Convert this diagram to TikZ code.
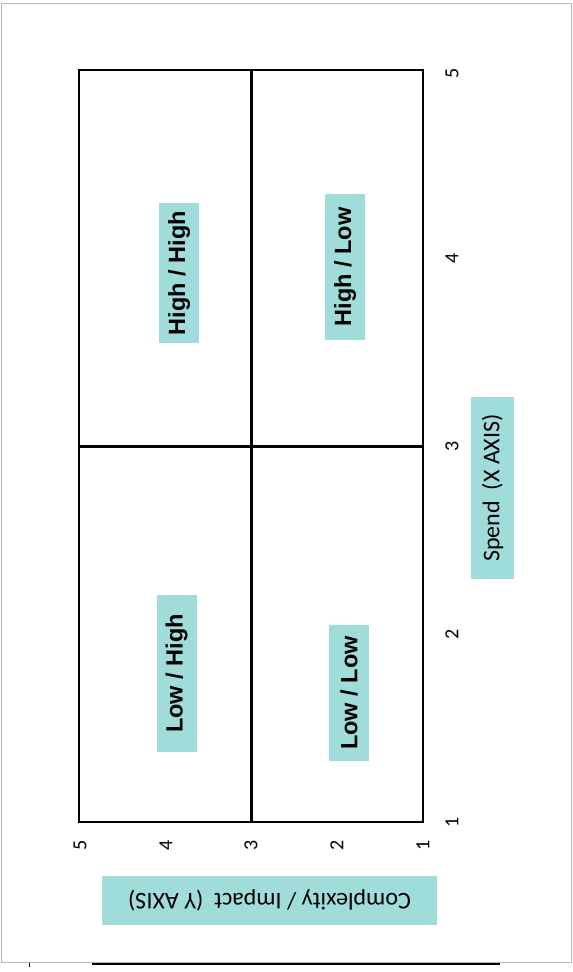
\documentclass[tikz,border=0pt]{standalone}
\usepackage{fontspec}
\setmainfont{Carlito}
\newfontfamily\quadfont{Liberation Sans}
\usepackage{xcolor}
\usetikzlibrary{positioning}
\definecolor{labelteal}{RGB}{160,220,218}

\begin{document}
\begin{tikzpicture}[x=1pt, y=-1pt,
    quad/.style={fill=labelteal, rotate=90, inner sep=0pt, minimum height=40pt,
      font=\quadfont\bfseries\fontsize{23.5}{27}\selectfont},
    axislabel/.style={fill=labelteal, inner sep=0pt, font=\fontsize{24}{28}\selectfont},
    tick/.style={inner sep=0pt, rotate=90, font=\fontsize{20}{23}\selectfont}]
  \useasboundingbox (0,0) rectangle (573,972);
  % page frame
  \draw[gray!55, line width=1pt] (1,3) rectangle (571,962);
  \draw[line width=2pt] (92,964) -- (500,964);
  \draw[line width=1pt] (29,963) -- (29,967);
  % matrix
  \draw[line width=2pt] (79,70) rectangle (423,822);
  \draw[line width=3pt] (251,70) -- (251,822);
  \draw[line width=3pt] (79,446) -- (423,446);
  % quadrant labels
  \node[quad, minimum width=140pt] (hh) at (179,273) {High / High};
  \node[quad, minimum width=146pt] (hl) at (345,267) {High / Low};
  \node[quad, minimum width=157pt] (lh) at (176.5,673.5) {Low / High};
  \node[quad, minimum width=136pt] (ll) at (349,693) {Low / Low};
  % spend ticks
  \node[tick] (x5) at (452,73) {5};
  \node[tick] (x4) at (452,258) {4};
  \node[tick] (x3) at (452,446) {3};
  \node[tick] (x2) at (452,634) {2};
  \node[tick] (x1) at (452,822) {1};
  % complexity ticks
  \node[tick] (y5) at (80,845) {5};
  \node[tick] (y4) at (166,845) {4};
  \node[tick] (y3) at (251,845) {3};
  \node[tick] (y2) at (337,845) {2};
  \node[tick] (y1) at (423,845) {1};
  % axis labels
  \node[axislabel, rotate=90, minimum width=182pt, minimum height=43pt] (xaxis) at (492.5,488) {Spend\ \ (X AXIS)};
  \node[axislabel, rotate=180, minimum width=335pt, minimum height=49pt] (yaxis) at (269.5,900.5) {Complexity / Impact\ \ (Y AXIS)};
\end{tikzpicture}
\end{document}
